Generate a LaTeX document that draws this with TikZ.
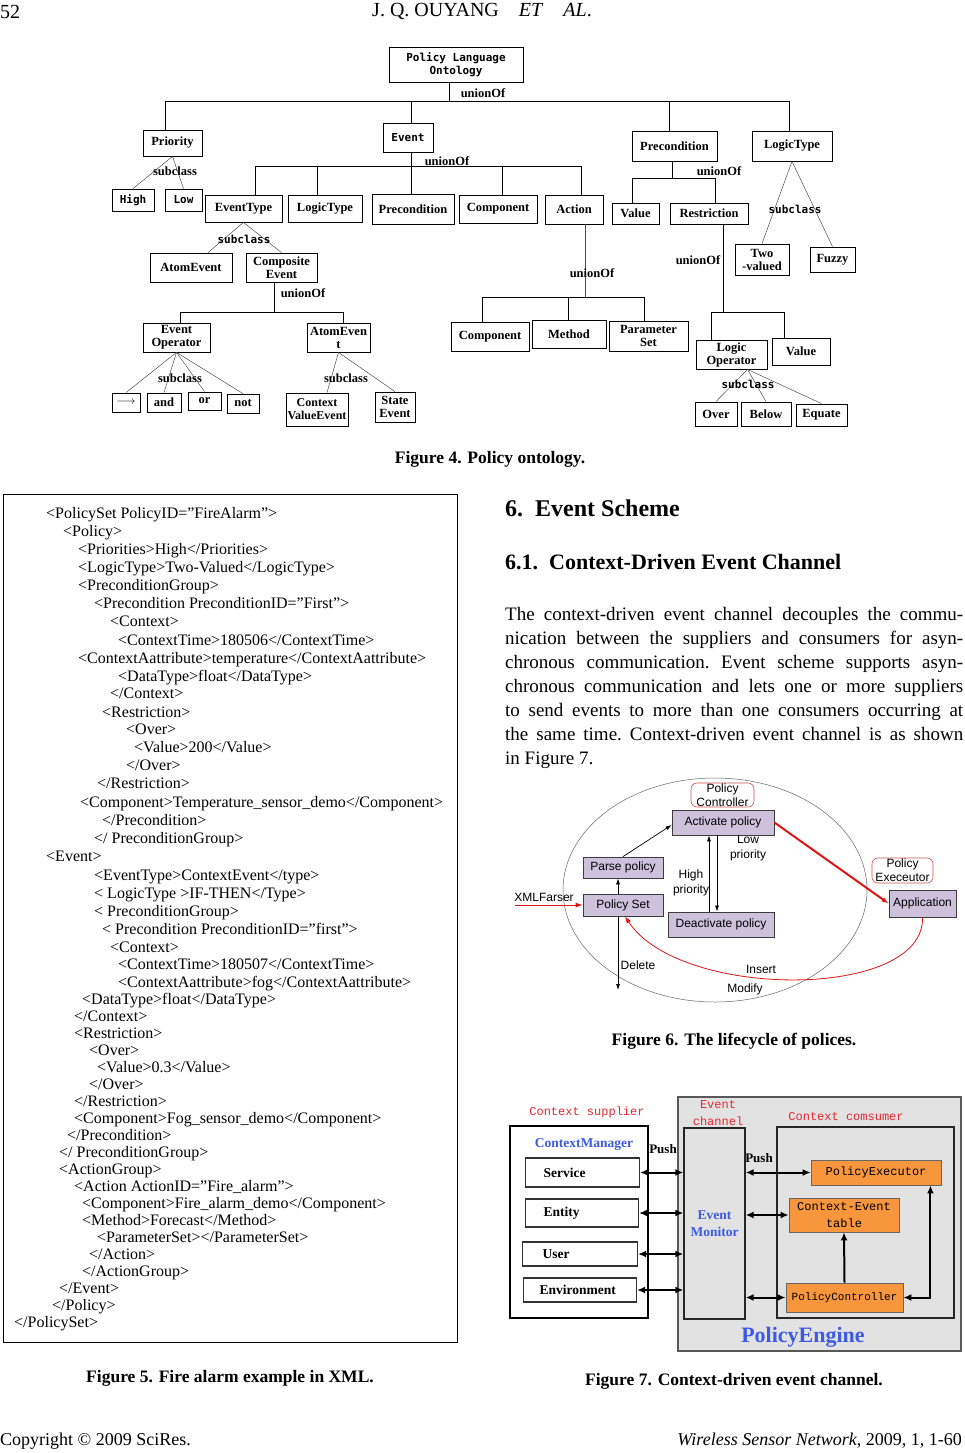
\documentclass[tikz,border=0pt]{standalone}
\usepackage{fontspec}
\setmainfont{Liberation Serif}
\newfontfamily\arialf{Liberation Sans}
\newfontfamily\monof{Liberation Mono}
\newfontfamily\dmonof{DejaVu Sans Mono}
\usetikzlibrary{arrows.meta,shapes.geometric}
\definecolor{lav}{RGB}{205,193,220}
\definecolor{boxedge}{RGB}{60,60,60}
\definecolor{redarr}{RGB}{225,20,20}
\definecolor{pcred}{RGB}{200,80,80}
\definecolor{engrey}{RGB}{226,226,226}
\definecolor{orng}{RGB}{247,150,60}
\definecolor{blu}{RGB}{60,90,230}
\definecolor{redtxt}{RGB}{230,40,50}
\newcommand\fsz[2]{\fontsize{#1}{#2}\selectfont}
\newcommand\bx[7][]{\node[ob,#1,minimum width={(#5)-(#3)},minimum height={(#6)-(#4)}] (#2) at ({((#3)+(#5))/2},{((#4)+(#6))/2}) {#7};}
\newcommand\xl[4]{\node[xmlt] (#1) at (#2,{#3+5}) {#4};}
\newcommand\pl[3]{\node[parat] (#1) at (505,{#2}) {\makebox[458pt][s]{#3}};}
\tikzset{
 ob/.style={draw, line width=0.8pt, inner sep=0pt, align=center, font=\fsz{12.5}{13}\bfseries},
 om/.style={font=\fsz{11}{12.5}\dmonof\bfseries},
 tl/.style={line width=0.8pt},
 sl/.style={line width=0.45pt, black!75},
 lab/.style={inner sep=0pt, font=\fsz{12.5}{13}\bfseries},
 labm/.style={inner sep=0pt, font=\fsz{11}{12}\dmonof\bfseries},
 xmlt/.style={anchor=base west, inner sep=0pt, font=\fsz{16}{18}},
 parat/.style={anchor=base west, inner sep=0pt, font=\fsz{19}{24}\frenchspacing},
 capt/.style={inner sep=0pt, font=\fsz{17.5}{20}\bfseries},
 ell/.style={draw=black!60, line width=0.5pt, ellipse, inner sep=0pt},
 lc/.style={draw=pcred, line width=0.6pt, rounded corners=6pt, align=center, inner sep=0pt, font=\fsz{12}{14}\arialf},
 lb/.style={draw=boxedge, line width=0.8pt, fill=lav, inner sep=0pt, font=\fsz{12}{14}\arialf},
 sans/.style={inner sep=0pt, align=center, font=\fsz{12}{15}\arialf},
 barr/.style={line width=0.7pt, -{Latex[length=6pt,width=4pt]}},
 rarr/.style={draw=redarr, line width=0.8pt, -{Latex[length=7pt,width=5pt]}},
 grbox/.style={draw=black!65, line width=1.6pt, fill=engrey, inner sep=0pt},
 whbox/.style={draw=black, line width=1.4pt, fill=white, inner sep=0pt},
 orbox/.style={draw=black!60, line width=0.9pt, fill=orng, inner sep=0pt, align=center, font=\fsz{12}{17}\monof},
 lbx/.style={draw=black!80, line width=1.1pt, fill=white, anchor=west, align=left, inner ysep=0pt, font=\fsz{13.5}{15}\bfseries},
 redm/.style={inner sep=0pt, align=center, text=redtxt, font=\fsz{12}{17}\monof},
 blub/.style={inner sep=0pt, align=center, text=blu, font=\fsz{13.5}{17}\bfseries},
 pushl/.style={inner sep=0pt, font=\fsz{13}{15}\bfseries},
 dar/.style={line width=2pt, {Latex[length=8pt,width=7pt]}-{Latex[length=8pt,width=7pt]}},
 uar/.style={line width=2pt, -{Latex[length=8pt,width=7pt]}},
}
\begin{document}
\begin{tikzpicture}[x=1pt,y=-1pt]
\useasboundingbox (0,0) rectangle (965,1453);
\fill[white] (0,0) rectangle (965,1453);
% header / footer
\node[anchor=west, inner sep=0pt, font=\fsz{20}{22}] (pgno) at (0,12) {52};
\node[inner sep=0pt, font=\fsz{20}{22}] (runhead) at (482,12) {J. Q. OUYANG\quad\textit{ET}\quad\textit{AL}.};
\node[anchor=west, inner sep=0pt, font=\fsz{18}{20}] (copyr) at (0,1441) {Copyright © 2009 SciRes.};
\node[anchor=east, inner sep=0pt, font=\fsz{18}{20}] (journ) at (962,1441) {\textit{Wireless Sensor Network}, 2009, 1, 1-60};

% ================= Figure 4 =================
\bx[om]{root}{389}{47}{523}{82}{Policy Language\\Ontology}
\bx{priority}{143}{130}{202}{156}{Priority}
\bx[om]{high}{112}{189}{154}{211}{High}
\bx[om]{low}{165}{189}{202}{211}{Low}
\bx[om]{event}{383}{123}{433}{152}{Event}
\bx{etype}{205}{195}{282}{222}{EventType}
\bx{ltype}{288}{195}{362}{222}{LogicType}
\bx{precon}{372}{194}{454}{224}{Precondition}
\bx{comp}{459}{195}{537}{223}{Component}
\bx{action}{545}{195}{603}{224}{Action}
\bx{atomev}{150}{253}{232}{282}{AtomEvent}
\bx{compev}{246}{253}{317}{282}{Composite\\Event}
\bx{evop}{143}{323}{210}{352}{Event\\Operator}
\bx{atomevb}{307}{323}{370}{352}{AtomEven\\t}
\bx{opar}{112}{393}{140}{412}{$\longrightarrow$}
\bx{opand}{147}{393}{181}{412}{and}
\bx{opor}{188}{392}{221}{410}{or}
\bx{opnot}{227}{394}{259}{413}{not}
\bx[font=\fsz{12}{13}\bfseries]{ctxval}{286}{393}{348}{426}{Context\\ValueEvent}
\bx{state}{375}{392}{415}{422}{State\\Event}
\bx{compb}{451}{322}{529}{351}{Component}
\bx{method}{532}{320}{606}{348}{Method}
\bx{param}{609}{321}{688}{351}{Parameter\\Set}
\bx{preconR}{632}{131}{717}{161}{Precondition}
\bx{ltypeR}{752}{131}{832}{161}{LogicType}
\bx{valueR}{612}{203}{659}{224}{Value}
\bx{restr}{670}{203}{748}{224}{Restriction}
\bx{twoval}{735}{244}{789}{275}{Two\\-valued}
\bx{fuzzy}{810}{247}{855}{272}{Fuzzy}
\bx{logop}{696}{340}{767}{369}{Logic\\Operator}
\bx{valueb}{772}{338}{830}{365}{Value}
\bx{over}{695}{402}{737}{426}{Over}
\bx{below}{741}{402}{791}{426}{Below}
\bx{equate}{796}{404}{847}{426}{Equate}

% tree buses
\coordinate (a0) at (449,101);
\coordinate (a1) at (165,101); \coordinate (a2) at (411,101);
\coordinate (a3) at (669,101); \coordinate (a4) at (789,101);
\draw[tl] (root.south -| a0) -- (a0);
\draw[tl] (a1) -- (a4);
\draw[tl] (a1) -- (priority.north -| a1);
\draw[tl] (a2) -- (event.north -| a2);
\draw[tl] (a3) -- (preconR.north -| a3);
\draw[tl] (a4) -- (ltypeR.north -| a4);

\coordinate (b0) at (411,166);
\coordinate (b1) at (255,166); \coordinate (b2) at (317,166);
\coordinate (b4) at (502,166); \coordinate (b5) at (581,166);
\draw[tl] (event.south -| b0) -- (b0);
\draw[tl] (b1) -- (b5);
\draw[tl] (b1) -- (etype.north -| b1);
\draw[tl] (b2) -- (ltype.north -| b2);
\draw[tl] (b0) -- (precon.north -| b0);
\draw[tl] (b4) -- (comp.north -| b4);
\draw[tl] (b5) -- (action.north -| b5);

\coordinate (c0) at (274,312);
\coordinate (c1) at (180,312); \coordinate (c2) at (343,312);
\draw[tl] (compev.south -| c0) -- (c0);
\draw[tl] (c1) -- (c2);
\draw[tl] (c1) -- (evop.north -| c1);
\draw[tl] (c2) -- (atomevb.north -| c2);

\coordinate (d0) at (585,297);
\coordinate (d1) at (482,297); \coordinate (d2) at (568,297); \coordinate (d3) at (644,297);
\draw[tl, black!70] (action.south -| d0) -- (d0);
\draw[tl] (d1) -- (d3);
\draw[tl] (d1) -- (compb.north -| d1);
\draw[tl] (d2) -- (method.north -| d2);
\draw[tl] (d3) -- (param.north -| d3);

\coordinate (e0) at (672,178);
\coordinate (e1) at (632,178); \coordinate (e2) at (715,178);
\draw[tl] (preconR.south -| e0) -- (e0);
\draw[tl] (e1) -- (e2);
\draw[tl] (e1) -- (valueR.north -| e1);
\draw[tl] (e2) -- (restr.north -| e2);

\coordinate (f0) at (723,312);
\coordinate (f1) at (711,312); \coordinate (f2) at (784,312);
\draw[tl] (restr.south -| f0) -- (f0);
\draw[tl] (f1) -- (f2);
\draw[tl] (f1) -- (logop.north -| f1);
\draw[tl] (f2) -- (valueb.north -| f2);

% subclass lines
\draw[sl] (priority.south) -- (high.north);
\draw[sl] (priority.south) -- (low.north);
\draw[sl] (etype.south) -- ([xshift=17pt]atomev.north);
\draw[sl] (etype.south) -- (compev.north);
\draw[sl] (evop.south) -- (opar.north);
\draw[sl] (evop.south) -- (opand.north);
\draw[sl] (evop.south) -- (opor.north);
\draw[sl] (evop.south) -- (opnot.north);
\draw[sl] (atomevb.south) -- ([xshift=10pt]ctxval.north);
\draw[sl] (atomevb.south) -- (state.north);
\draw[sl] (ltypeR.south) -- (twoval.north);
\draw[sl] (ltypeR.south) -- (fuzzy.north);
\draw[sl] ([xshift=16pt]logop.south) -- (over.north);
\draw[sl] ([xshift=16pt]logop.south) -- (below.north);
\draw[sl] ([xshift=16pt]logop.south) -- (equate.north);

% labels
\node[lab] (u1) at (483,93) {unionOf};
\node[lab] (u2) at (447,161) {unionOf};
\node[lab] (u3) at (303,293) {unionOf};
\node[lab] (u4) at (592,273) {unionOf};
\node[lab] (u5) at (719,171) {unionOf};
\node[lab] (u6) at (698,260) {unionOf};
\node[lab] (s1) at (175,171) {subclass};
\node[labm] (s2) at (244,239) {subclass};
\node[lab] (s3) at (180,378) {subclass};
\node[lab] (s4) at (346,378) {subclass};
\node[labm] (s5) at (795,209) {subclass};
\node[labm] (s6) at (748,384) {subclass};

\node[capt] (cap4) at (490,459) {Figure 4. Policy ontology.};

% ================= Figure 5 =================
\node[draw, line width=0.8pt, inner sep=0pt, minimum width=454, minimum height=848] (xmlbox) at (230,918) {};
\xl{x1}{46}{513}{<PolicySet PolicyID=”FireAlarm”>}
\xl{x2}{63}{531}{<Policy>}
\xl{x3}{78}{549}{<Priorities>High</Priorities>}
\xl{x4}{78}{567}{<LogicType>Two-Valued</LogicType>}
\xl{x5}{78}{585}{<PreconditionGroup>}
\xl{x6}{94}{603}{<Precondition PreconditionID=”First”>}
\xl{x7}{110}{621}{<Context>}
\xl{x8}{118}{640}{<ContextTime>180506</ContextTime>}
\xl{x9}{78}{658}{<ContextAattribute>temperature</ContextAattribute>}
\xl{x10}{118}{676}{<DataType>float</DataType>}
\xl{x11}{110}{693}{</Context>}
\xl{x12}{102}{712}{<Restriction>}
\xl{x13}{126}{729}{<Over>}
\xl{x14}{134}{747}{<Value>200</Value>}
\xl{x15}{126}{765}{</Over>}
\xl{x16}{97}{783}{</Restriction>}
\xl{x17}{80}{802}{<Component>Temperature\_sensor\_demo</Component>}
\xl{x18}{102}{820}{</Precondition>}
\xl{x19}{94}{838}{</ PreconditionGroup>}
\xl{x20}{46}{856}{<Event>}
\xl{x21}{94}{875}{<EventType>ContextEvent</type>}
\xl{x22}{94}{893}{< LogicType >IF-THEN</Type>}
\xl{x23}{94}{911}{< PreconditionGroup>}
\xl{x24}{102}{929}{< Precondition PreconditionID=”first”>}
\xl{x25}{110}{947}{<Context>}
\xl{x26}{118}{964}{<ContextTime>180507</ContextTime>}
\xl{x27}{118}{982}{<ContextAattribute>fog</ContextAattribute>}
\xl{x28}{82}{999}{<DataType>float</DataType>}
\xl{x29}{74}{1016}{</Context>}
\xl{x30}{74}{1033}{<Restriction>}
\xl{x31}{89}{1050}{<Over>}
\xl{x32}{97}{1067}{<Value>0.3</Value>}
\xl{x33}{89}{1084}{</Over>}
\xl{x34}{74}{1101}{</Restriction>}
\xl{x35}{74}{1118}{<Component>Fog\_sensor\_demo</Component>}
\xl{x36}{67}{1135}{</Precondition>}
\xl{x37}{59}{1152}{</ PreconditionGroup>}
\xl{x38}{59}{1169}{<ActionGroup>}
\xl{x39}{74}{1186}{<Action ActionID=”Fire\_alarm”>}
\xl{x40}{82}{1203}{<Component>Fire\_alarm\_demo</Component>}
\xl{x41}{82}{1220}{<Method>Forecast</Method>}
\xl{x42}{97}{1237}{<ParameterSet></ParameterSet>}
\xl{x43}{89}{1254}{</Action>}
\xl{x44}{82}{1271}{</ActionGroup>}
\xl{x45}{59}{1288}{</Event>}
\xl{x46}{52}{1305}{</Policy>}
\xl{x47}{14}{1322}{</PolicySet>}
\node[capt] (cap5) at (230,1378) {Figure 5. Fire alarm example in XML.};

% ================= Right column text =================
\node[anchor=west, inner sep=0pt, font=\fsz{24}{26}\bfseries] (h6) at (505,508) {6.\hspace{0.5em}Event Scheme};
\node[anchor=west, inner sep=0pt, font=\fsz{22}{24}\bfseries] (h61) at (505,562) {6.1.\hspace{0.5em}Context-Driven Event Channel};
\pl{p1}{620}{The context-driven event channel decouples the commu-}
\pl{p2}{644}{nication between the suppliers and consumers for asyn-}
\pl{p3}{668}{chronous communication. Event scheme supports asyn-}
\pl{p4}{692}{chronous communication and lets one or more suppliers}
\pl{p5}{716}{to send events to more than one consumers occurring at}
\pl{p6}{740}{the same time. Context-driven event channel is as shown}
\node[parat] (p7) at (505,764) {in Figure 7.};

% ================= Figure 6 =================
\node[ell, minimum width=304, minimum height=224] (ellp) at (715,890) {};
\node[lc, minimum width=63, minimum height=24] (pctl) at (722.5,795) {Policy\\Controller};
\node[lc, minimum width=61, minimum height=25] (pexe) at (902.5,870.5) {Policy\\Execeutor};
\node[lb, minimum width=102, minimum height=25] (activ) at (723,822.5) {Activate policy};
\node[lb, minimum width=80, minimum height=21] (parse) at (623,867.5) {Parse policy};
\node[lb, minimum width=80, minimum height=22] (pset) at (623,905) {Policy Set};
\node[lb, minimum width=106, minimum height=25] (deact) at (721,924.5) {Deactivate policy};
\node[lb, minimum width=67, minimum height=27] (app) at (922.5,903.5) {Application};
\coordinate (xin) at (515,905);
\coordinate (hp) at (709,0);
\coordinate (lp) at (717,0);
\coordinate (dend) at (618,990);
\draw[rarr] (xin) -- (pset.west);
\draw[barr] ([xshift=-5pt]pset.north) -- ([xshift=-5pt]parse.south);
\draw[barr] (parse.north) -- ([yshift=-2.5pt]activ.west);
\draw[barr] (deact.north -| hp) -- (activ.south -| hp);
\draw[barr] (activ.south -| lp) -- (deact.north -| lp);
\draw[rarr, line width=2pt] (activ.east) -- (app.west);
\draw[rarr] (app.south) .. controls (925,1000) and (680,1000) .. ([xshift=2pt]pset.south);
\draw[barr] ([xshift=-5pt]pset.south) -- (dend);
\node[sans] (lxml) at (544,897) {XMLFarser};
\node[sans] (llow) at (748,848) {Low\\priority};
\node[sans] (lhigh) at (691,883) {High\\priority};
\node[sans] (ldel) at (638,965) {Delete};
\node[sans] (lins) at (761,969) {Insert};
\node[sans] (lmod) at (745,989) {Modify};
\node[capt] (cap6) at (734,1041) {Figure 6. The lifecycle of polices.};

% ================= Figure 7 =================
\node[grbox, minimum width=283, minimum height=254] (engine) at (819.5,1224) {};
\node[whbox, minimum width=138, minimum height=192] (supp) at (579,1222) {};
\node[grbox, line width=1.4pt, draw=black!85, minimum width=61, minimum height=191, align=center, text=blu, font=\fsz{13.5}{17}\bfseries] (monitor) at (714.5,1223.5) {Event\\Monitor};
\node[grbox, line width=1.4pt, draw=black!85, minimum width=177, minimum height=191] (cons) at (865.5,1222.5) {};
\node[orbox, minimum width=130, minimum height=25] (pexec) at (876,1172.5) {PolicyExecutor};
\node[orbox, minimum width=110, minimum height=34] (cet) at (844,1215) {Context-Event\\table};
\node[orbox, minimum width=117, minimum height=29, font=\fsz{11}{13}\monof] (pctrl) at (844.5,1297.5) {PolicyController};
\node[lbx, minimum height=29, inner xsep=18pt, text width=78pt] (service) at (525,1172.5) {Service};
\node[lbx, minimum height=28, inner xsep=18pt, text width=77pt] (entity) at (525,1213) {Entity};
\node[lbx, minimum height=24, inner xsep=20pt, text width=75pt] (user) at (522,1254) {User};
\node[lbx, minimum height=24, inner xsep=16pt, text width=81pt] (envir) at (523,1290) {Environment};
\node[redm] (lsupp) at (587,1112) {Context supplier};
\node[redm] (lchan) at (718,1113) {Event\\channel};
\node[redm] (lcons) at (846,1117) {Context comsumer};
\node[blub] (lcm) at (584,1145) {ContextManager};
\node[pushl] (push1) at (663,1149) {Push};
\node[pushl] (push2) at (759,1158) {Push};
\node[inner sep=0pt, text=blu, font=\fsz{22}{24}\bfseries] (lpe) at (803,1337) {PolicyEngine};
\draw[dar] (service.east) -- (service.east -| monitor.west);
\draw[dar] (entity.east) -- (entity.east -| monitor.west);
\draw[dar] (user.east) -- (user.east -| monitor.west);
\draw[dar] (envir.east) -- (envir.east -| monitor.west);
\draw[dar] (monitor.east |- pexec.west) -- (pexec.west);
\draw[dar] (monitor.east |- cet.west) -- (cet.west);
\draw[dar] (monitor.east |- pctrl.west) -- (pctrl.west);
\draw[uar] (pctrl.north) -- (cet.south);
\draw[dar] ([xshift=-11pt]pexec.south east) |- (pctrl.east);
\node[capt] (cap7) at (734,1381) {Figure 7. Context-driven event channel.};
\end{tikzpicture}
\end{document}
